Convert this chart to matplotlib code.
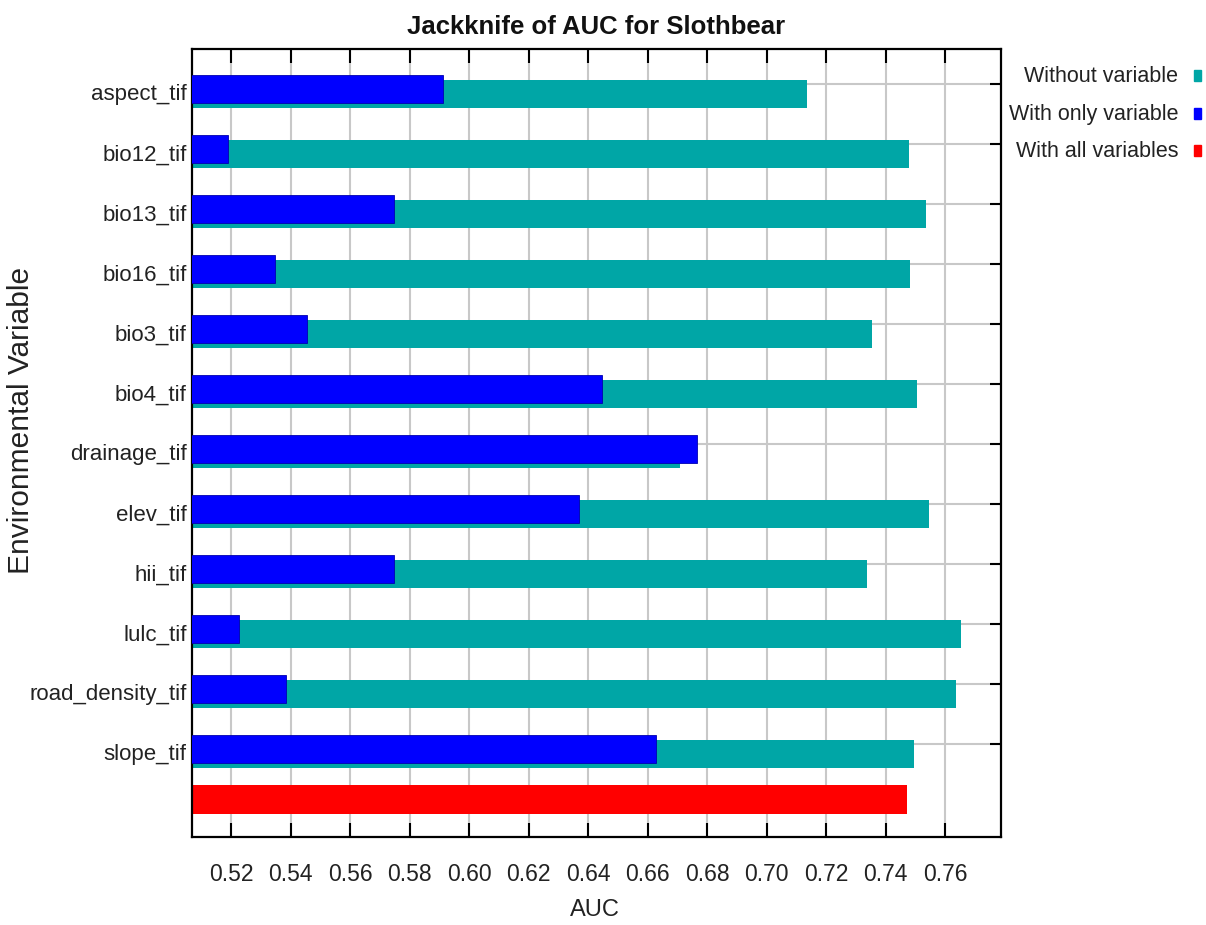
import matplotlib
matplotlib.use("Agg")
import matplotlib.pyplot as plt
from matplotlib.patches import Rectangle
import numpy as np

plt.rcParams['font.family'] = ['Liberation Sans', 'DejaVu Sans']

# Jackknife results (AUC)
variables = ["aspect_tif", "bio12_tif", "bio13_tif", "bio16_tif", "bio3_tif", "bio4_tif",
             "drainage_tif", "elev_tif", "hii_tif", "lulc_tif", "road_density_tif", "slope_tif"]
auc_without = [0.7137, 0.7478, 0.7536, 0.7483, 0.7355, 0.7506,
               0.6709, 0.7546, 0.7337, 0.7654, 0.7636, 0.7496]
auc_only = [0.5913, 0.5191, 0.5748, 0.5349, 0.5454, 0.6446,
            0.6767, 0.6370, 0.5748, 0.5226, 0.5384, 0.6627]
auc_all = 0.7472

x_ticks = [0.52, 0.54, 0.56, 0.58, 0.60, 0.62, 0.64, 0.66, 0.68, 0.70, 0.72, 0.74, 0.76]
legend_labels = ["Without variable", "With only variable", "With all variables"]

teal = "#00a6a6"
blue = "#0000ff"
red = "#ff0000"
text_col = "#222222"

fig = plt.figure(figsize=(12.06, 9.25), dpi=100)
ax = fig.add_axes([0.1595, 0.0951, 0.6703, 0.8519])

pos = np.arange(len(variables))
base = 0.50
h = 0.47
ax.barh(pos + 0.163, np.array(auc_without) - base, left=base, height=h, color=teal, zorder=2)
ax.barh(pos + 0.083, np.array(auc_only) - base, left=base, height=h, color=blue,
        edgecolor="#0000b0", linewidth=0.6, zorder=3)
# the all-variables bar sits below the last variable row
ax.barh([pos[-1] + 0.925], [auc_all - base], left=base, height=h, color=red, zorder=2)

ax.set_xlim(0.50699, 0.77873)
ax.set_ylim(12.55, -0.583)

ax.set_xticks(x_ticks)
ax.set_xticklabels([f"{t:.2f}" for t in x_ticks], fontsize=16.5, color=text_col)
ax.tick_params(axis='x', direction='in', length=10, width=1.5, top=True, bottom=True,
               pad=19, colors='black', labelcolor=text_col)

# category labels sit slightly below the grid rows
ax.set_yticks(pos + 0.14)
ax.set_yticklabels(variables, fontsize=16, color=text_col)
ax.tick_params(axis='y', which='major', length=0, pad=4, labelcolor=text_col)
ax.set_yticks(pos, minor=True)
ax.tick_params(axis='y', which='minor', direction='in', length=8, width=1.5,
               left=False, right=True, colors='black')

ax.set_axisbelow(True)
ax.grid(axis='x', which='major', color='#c8c8c8', linewidth=1.5)
ax.grid(axis='y', which='minor', color='#c8c8c8', linewidth=1.5)

for s in ax.spines.values():
    s.set_linewidth(1.6)
    s.set_color('black')

fig.text(0.4946, 0.971, "Jackknife of AUC for Slothbear", ha='center', va='center',
         fontsize=18.5, fontweight='bold', color='#111111')
fig.text(0.4934, 0.0162, "AUC", ha='center', va='center', fontsize=17, color=text_col)
fig.text(0.0175, 0.546, "Environmental Variable", ha='center', va='center',
         rotation=90, fontsize=21.5, color=text_col)

# legend: right-aligned labels with small colour swatches
legend_cols = [teal, blue, red]
legend_y = [0.917, 0.876, 0.836]
for lab, col, yy in zip(legend_labels, legend_cols, legend_y):
    fig.text(0.9768, yy, lab, ha='right', va='center', fontsize=15.5, color=text_col)
    fig.add_artist(Rectangle((0.9898, yy - 0.0045), 0.0058, 0.0119,
                             transform=fig.transFigure, color=col))

fig.savefig("out.png", dpi=100)
